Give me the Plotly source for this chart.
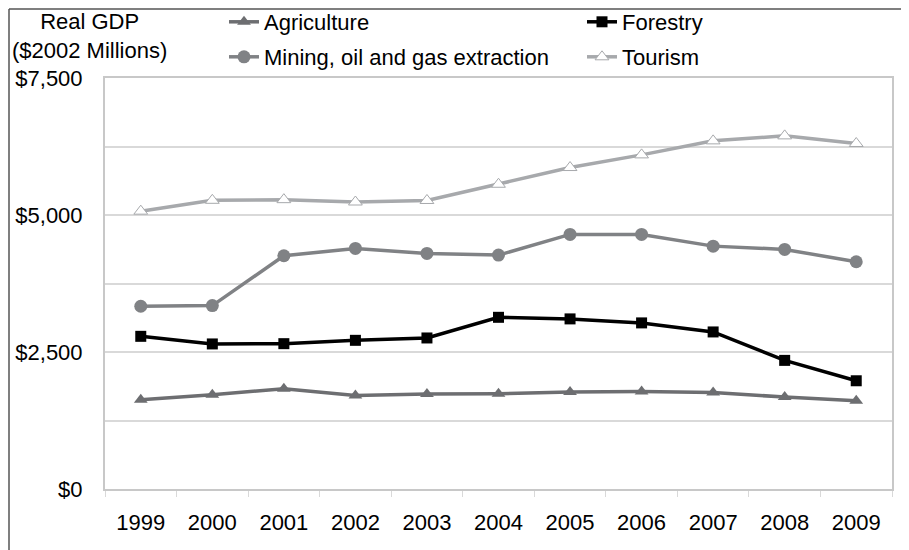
import plotly.graph_objects as go

years = ["1999", "2000", "2001", "2002", "2003", "2004", "2005", "2006", "2007", "2008", "2009"]
agriculture = [1628, 1719, 1829, 1707, 1732, 1738, 1769, 1780, 1762, 1677, 1610]
forestry = [2786, 2647, 2652, 2713, 2756, 3133, 3104, 3031, 2866, 2347, 1975]
mining = [3335, 3347, 4256, 4390, 4299, 4268, 4646, 4646, 4432, 4372, 4147]
tourism = [5070, 5268, 5280, 5237, 5265, 5561, 5866, 6097, 6353, 6444, 6305]

ytick_vals = [0, 2500, 5000, 7500]
ytick_text = ["$0", "$2,500", "$5,000", "$7,500"]

FONT = "Liberation Sans, Arial, sans-serif"
FS = 22

fig = go.Figure()
fig.add_trace(go.Scatter(
    x=years, y=agriculture, name="Agriculture", mode="lines+markers",
    line=dict(color="#6d6e71", width=3.5),
    marker=dict(symbol="triangle-up", size=12, color="#6d6e71"),
    legend="legend"))
fig.add_trace(go.Scatter(
    x=years, y=forestry, name="Forestry", mode="lines+markers",
    line=dict(color="#000000", width=3.5),
    marker=dict(symbol="square", size=11, color="#000000"),
    legend="legend2"))
fig.add_trace(go.Scatter(
    x=years, y=mining, name="Mining, oil and gas extraction", mode="lines+markers",
    line=dict(color="#808285", width=3.5),
    marker=dict(symbol="circle", size=13, color="#808285"),
    legend="legend3"))
fig.add_trace(go.Scatter(
    x=years, y=tourism, name="Tourism", mode="lines+markers",
    line=dict(color="#a7a9ac", width=3.5),
    marker=dict(symbol="triangle-up", size=12, color="#ffffff",
                line=dict(color="#a7a9ac", width=1)),
    legend="legend4"))

legend_common = dict(
    orientation="h", xanchor="left", yanchor="middle",
    font=dict(family=FONT, size=FS, color="#000000"),
    bgcolor="rgba(0,0,0,0)", itemclick=False, itemdoubleclick=False,
)

# conversions from page pixels (plot area spans 105..892 x, 78..489 y on the page)
def px_x(px):
    return (px - 105) / 787.0

def px_y(py):
    return (489 - py) / 411.0

fig.update_layout(
    width=909, height=550,
    margin=dict(l=97, r=25, t=70, b=69, autoexpand=False),
    paper_bgcolor="#ffffff", plot_bgcolor="#ffffff",
    font=dict(family=FONT, size=FS, color="#000000"),
    showlegend=True,
    legend=dict(x=px_x(224), y=px_y(22), **legend_common),
    legend2=dict(x=px_x(582), y=px_y(22), **legend_common),
    legend3=dict(x=px_x(224), y=px_y(57), **legend_common),
    legend4=dict(x=px_x(582), y=px_y(57), **legend_common),
    xaxis=dict(
        type="category", range=[-0.5, 10.5],
        showline=True, linecolor="#c8c8c8", linewidth=2, mirror=True,
        showgrid=False, ticks="outside", tickson="boundaries",
        ticklen=6, tickcolor="#d9d9d9", tickwidth=1,
        tickfont=dict(family=FONT, size=FS, color="#000000"),
        ticklabelstandoff=13,
    ),
    yaxis=dict(
        range=[0, 7500], tickvals=ytick_vals, ticktext=ytick_text,
        showline=True, linecolor="#c8c8c8", linewidth=2, mirror=True,
        showgrid=True, gridcolor="#d9d9d9", gridwidth=1.5,
        minor=dict(dtick=1250, tick0=0, showgrid=True, gridcolor="#d9d9d9", gridwidth=1.5),
        ticks="", ticklabelstandoff=16,
        tickfont=dict(family=FONT, size=FS, color="#000000"),
        zeroline=False,
    ),
    annotations=[dict(
        text="Real GDP<br>($2002 Millions)", xref="paper", yref="paper",
        x=px_x(89), y=px_y(36), xanchor="center", yanchor="middle",
        showarrow=False, font=dict(family=FONT, size=FS, color="#000000"),
    )],
    shapes=[
        dict(type="line", xref="paper", yref="paper",
             x0=px_x(9), x1=px_x(9), y0=-0.3, y1=px_y(9),
             line=dict(color="#555555", width=1.5)),
        dict(type="line", xref="paper", yref="paper",
             x0=px_x(9), x1=1.1, y0=px_y(9), y1=px_y(9),
             line=dict(color="#555555", width=1.5)),
    ],
)

fig.write_html("out.html")
